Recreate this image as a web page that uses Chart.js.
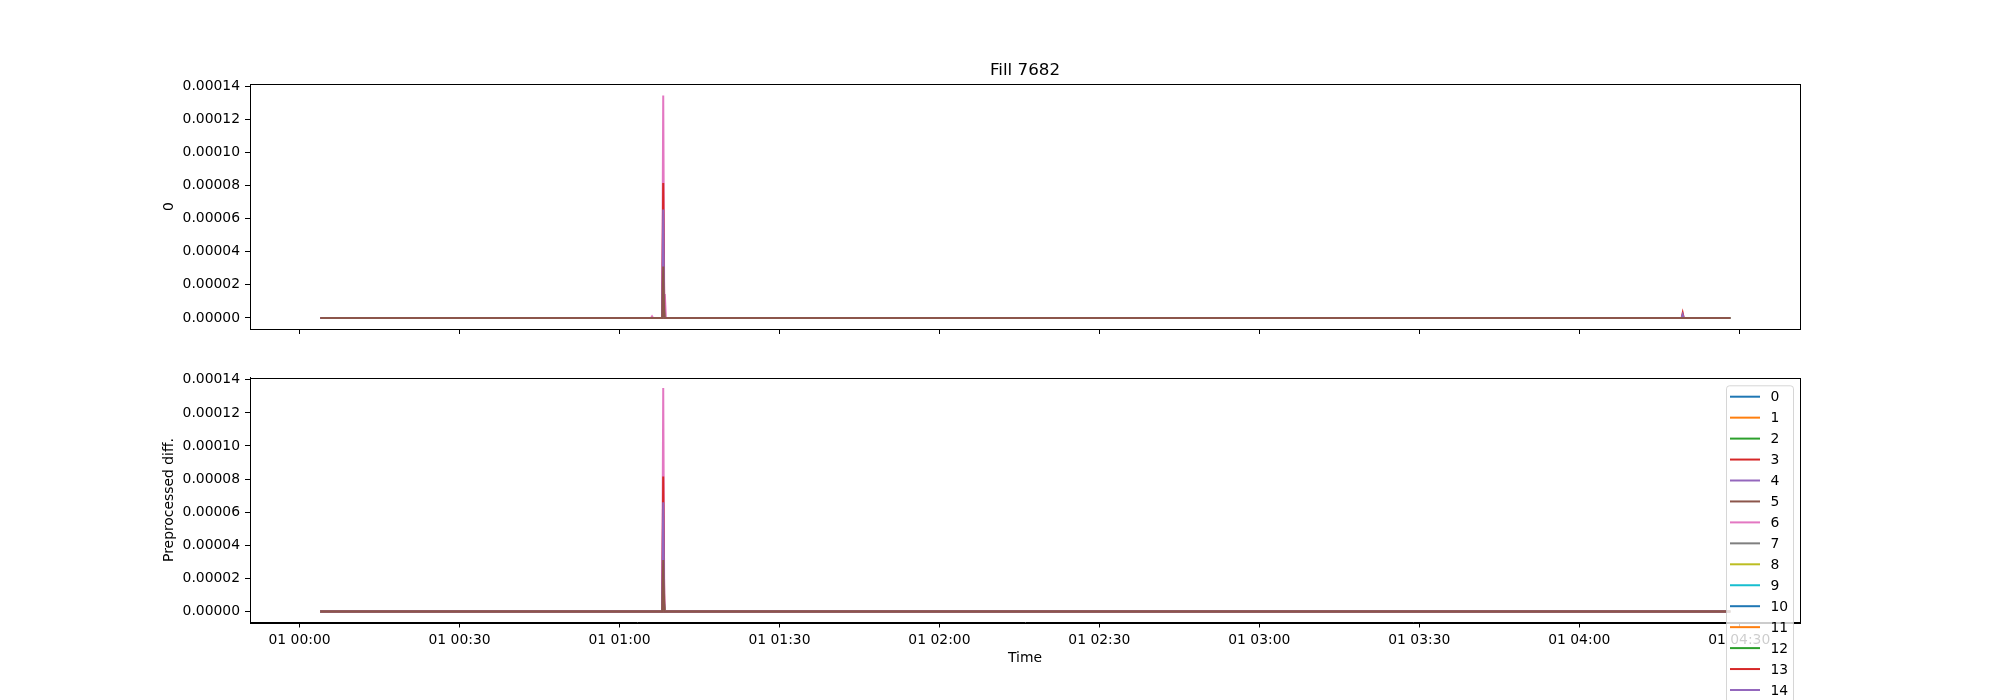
<!DOCTYPE html>
<html>
<head>
<meta charset="utf-8">
<script src="https://cdn.jsdelivr.net/npm/chart.js@4/dist/chart.umd.min.js"></script>
<style>
  body { margin: 0; background: #fff; }
  canvas { position: absolute; left: 0; }
  #top { top: 0; }
  #bottom { top: 350px; }
</style>
</head>
<body>
<canvas id="top" width="2000" height="350"></canvas>
<canvas id="bottom" width="2000" height="350"></canvas>
<script>
// channels (legend labels)
const channels = ['0', '1', '2', '3', '4', '5', '6', '7', '8', '9', '10', '11', '12', '13', '14', '15'];
const palette = ['#1f77b4', '#ff7f0e', '#2ca02c', '#d62728', '#9467bd', '#8c564b', '#e377c2', '#7f7f7f', '#bcbd22', '#17becf'];

// sample times, minutes after 01 00:00
const times = [3.9, 65.9, 66.1, 66.3, 68.0, 68.2, 68.4, 68.5, 68.7, 259.2, 259.4, 259.6, 268.3];

// top panel: value of each channel at the events
const spikeTop = [2.0e-5, 1.2e-5, 1.8e-5, 4.5e-5, 3.8e-5, 2.6e-5, 13.45e-5, 1.0e-5, 1.5e-5, 0.8e-5, 2.2e-5, 1.4e-5, 1.9e-5, 8.15e-5, 6.55e-5, 3.1e-5];
const tailTop = [0, 0, 0, 0, 0, 0, 1.45e-5, 0, 0, 0, 0, 0, 0, 0, 0, 0];
const preBumpTop = [0, 0, 0, 0, 0, 0, 1.0e-6, 0, 0, 0, 0, 0, 0, 0, 0, 0];
const lateBumpTop = [0, 0, 0, 0, 0, 0, 0, 0, 0, 0, 0, 0, 0, 3.0e-6, 2.0e-6, 0];

// bottom panel (preprocessed diff.)
const spikeBottom = [2.0e-5, 1.2e-5, 1.8e-5, 4.5e-5, 3.8e-5, 2.6e-5, 13.5e-5, 1.0e-5, 1.5e-5, 0.8e-5, 2.2e-5, 1.4e-5, 1.9e-5, 8.15e-5, 6.6e-5, 3.1e-5];
const tailBottom = [0, 0, 0, 0, 0, 0, 0, 0, 0, 0, 0, 0, 0, 0, 0, 0];
const preBumpBottom = [0, 0, 0, 0, 0, 0, 0, 0, 0, 0, 0, 0, 0, 0, 0, 0];
const lateBumpBottom = [0, 0, 0, 0, 0, 0, 0, 0, 0, 0, 0, 0, 0, 0, 0, 0];

const xTicks = [0, 30, 60, 90, 120, 150, 180, 210, 240, 270];
const yMin = -0.0000067, yMax = 0.0001414;
const xMin = -9.3, xMax = 281.4;

const FONT = 'DejaVu Sans';

function buildDatasets(spike, tail, pre, late) {
    return channels.map((name, i) => {
        const vals = [0, 0, pre[i], 0, 0, spike[i], 0, tail[i], 0, 0, late[i], 0, 0];
        return {
            label: name,
            data: times.map((t, k) => ({ x: t, y: vals[k] })),
            borderColor: palette[i % 10],
            backgroundColor: palette[i % 10],
            borderWidth: 2,
            pointRadius: 0,
            tension: 0,
            fill: false,
            // later channels painted on top, as in matplotlib
            order: channels.length - 1 - i
        };
    });
}

function pad2(n) { return String(n).padStart(2, '0'); }

// draws the four spines like matplotlib
const frame = {
    id: 'frame',
    afterDatasetsDraw(chart) {
        const a = chart.chartArea, ctx = chart.ctx;
        ctx.save();
        ctx.strokeStyle = '#000';
        ctx.lineWidth = 1;
        ctx.strokeRect(Math.round(a.left) + 0.5, Math.round(a.top) + 0.5, Math.round(a.right - a.left), Math.round(a.bottom - a.top));
        ctx.restore();
    }
};

// legend box drawn over the lower panel (runs off the bottom of the page)
const boxLegend = {
    id: 'boxLegend',
    afterDraw(chart) {
        const ctx = chart.ctx;
        const left = 1726, top = 35.3, right = 1793, rowH = 20.95, firstY = 46.7;
        const sets = chart.data.datasets;
        const bottom = firstY + sets.length * rowH;
        ctx.save();
        ctx.beginPath();
        ctx.roundRect(left + 0.5, top + 0.5, right - left, bottom - top, 3);
        ctx.fillStyle = 'rgba(255,255,255,0.8)';
        ctx.fill();
        ctx.strokeStyle = 'rgba(204,204,204,0.8)';
        ctx.lineWidth = 1;
        ctx.stroke();
        ctx.font = '13.9px "' + FONT + '"';
        ctx.textBaseline = 'middle';
        ctx.textAlign = 'left';
        sets.forEach((ds, i) => {
            const y = firstY + i * rowH;
            ctx.strokeStyle = ds.borderColor;
            ctx.lineWidth = 2;
            ctx.beginPath();
            ctx.moveTo(1730, y);
            ctx.lineTo(1760, y);
            ctx.stroke();
            ctx.fillStyle = '#000';
            ctx.fillText(ds.label, 1770.5, y + 1);
        });
        ctx.restore();
    }
};

function makeOptions(cfg) {
    return {
        responsive: false,
        animation: false,
        devicePixelRatio: 1,
        layout: { padding: cfg.padding },
        plugins: {
            legend: { display: false },
            tooltip: { enabled: false },
            title: cfg.title
        },
        scales: {
            x: {
                type: 'linear',
                min: xMin,
                max: xMax,
                afterBuildTicks: s => { s.ticks = xTicks.map(v => ({ value: v })); },
                afterFit: s => { s.height = cfg.xHeight; },
                ticks: {
                    display: cfg.showXLabels,
                    maxRotation: 0,
                    autoSkip: false,
                    padding: 5,
                    color: '#000',
                    font: { family: FONT, size: 13.9 },
                    callback: v => '01 ' + pad2(Math.floor(v / 60)) + ':' + pad2(v % 60)
                },
                grid: { drawOnChartArea: false, drawTicks: true, tickLength: 5, color: '#000' },
                border: { display: true, color: '#000', width: 1 },
                title: {
                    display: cfg.showXLabels,
                    text: 'Time',
                    color: '#000',
                    padding: 0,
                    font: { family: FONT, size: 13.9 }
                }
            },
            y: {
                type: 'linear',
                min: yMin,
                max: yMax,
                afterFit: s => { s.width = 88.7; },
                ticks: {
                    stepSize: 0.00002,
                    includeBounds: false,
                    padding: 5,
                    color: '#000',
                    font: { family: FONT, size: 13.9 },
                    callback: v => v.toFixed(5)
                },
                grid: { drawOnChartArea: false, drawTicks: true, tickLength: 5, color: '#000' },
                border: { display: true, color: '#000', width: 1 },
                title: {
                    display: true,
                    text: cfg.yTitle,
                    color: '#000',
                    padding: 0,
                    font: { family: FONT, size: 13.9 }
                }
            }
        }
    };
}

document.addEventListener('DOMContentLoaded', function() {
    new Chart(document.getElementById('top'), {
        type: 'line',
        data: { datasets: buildDatasets(spikeTop, tailTop, preBumpTop, lateBumpTop) },
        options: makeOptions({
            padding: { left: 161.3, right: 200, top: 0, bottom: 0 },
            xHeight: 21,
            showXLabels: false,
            yTitle: '0',
            title: {
                display: true,
                fullSize: false,
                text: 'Fill 7682',
                color: '#000',
                font: { family: FONT, size: 16.7, weight: 'normal' },
                padding: { top: 60.7, bottom: 3.3 }
            }
        }),
        plugins: [frame]
    });

    new Chart(document.getElementById('bottom'), {
        type: 'line',
        data: { datasets: buildDatasets(spikeBottom, tailBottom, preBumpBottom, lateBumpBottom) },
        options: makeOptions({
            padding: { left: 161.3, right: 200, top: 27.5, bottom: 33.65 },
            xHeight: 43.85,
            showXLabels: true,
            yTitle: 'Preprocessed diff.',
            title: { display: false }
        }),
        plugins: [frame, boxLegend]
    });
});
</script>
</body>
</html>
